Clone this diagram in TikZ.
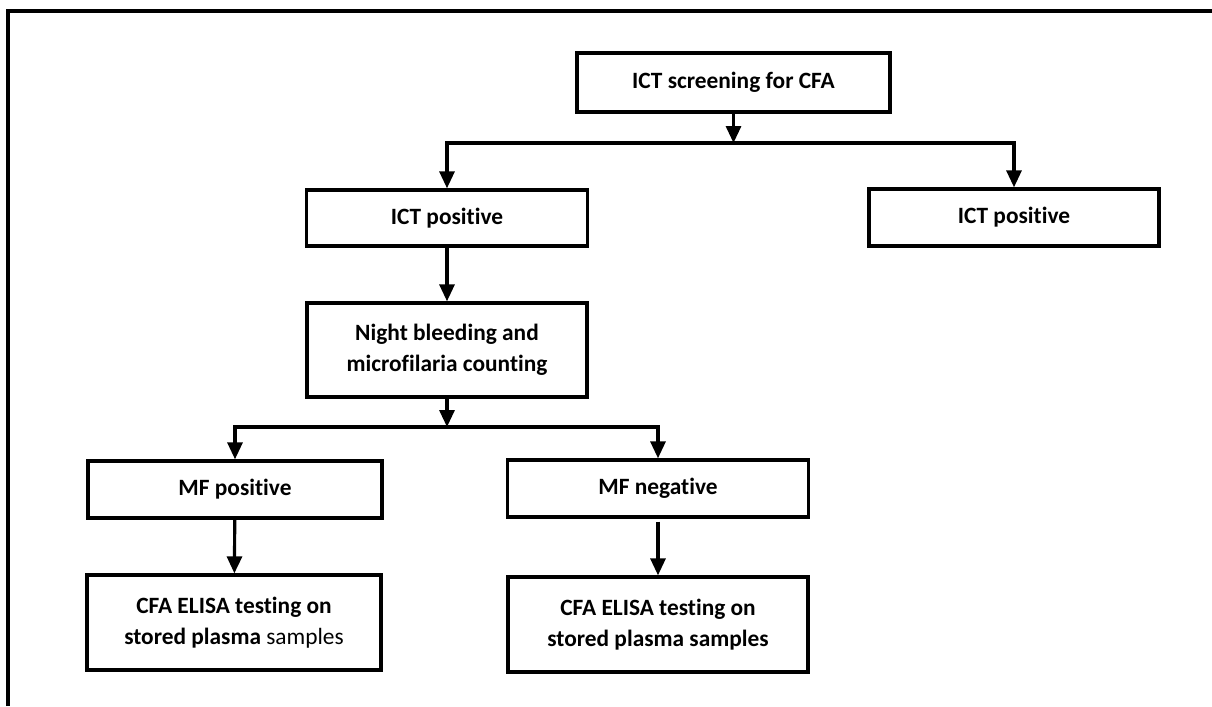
\documentclass[tikz,border=0pt]{standalone}
\usepackage{fontspec}
\setmainfont{Carlito}[Ligatures={NoCommon,NoContextual}]
\usepackage{tikz}
\usetikzlibrary{arrows.meta,positioning}
\tikzset{
  every picture/.style={draw=black, text=black},
}

\begin{document}
\begin{tikzpicture}[x=0.02cm, y=-0.02cm,
  box/.style={draw, line width=1.9pt, fill=white, align=center,
    inner sep=0pt, font=\bfseries\fontsize{13.3}{17.6}\selectfont},
  arr/.style={line width=1.8pt, -{Triangle[length=0.34cm,width=0.3cm]}}]

\useasboundingbox (0,0) rectangle (1212,706);

%% Outer frame (top and left edges only)
\draw[line width=1.9pt] (8,706) -- (8,11) -- (1212,11);

%% Level 0: screening
\node[box, minimum width=313*0.02cm, minimum height=59*0.02cm]
  (screen) at (733.5,82.5) {ICT screening for CFA};

%% Level 1: ICT results
\node[box, minimum width=281*0.02cm, minimum height=56*0.02cm]
  (ictl) at (447,218) {ICT positive};
\node[box, minimum width=290*0.02cm, minimum height=57*0.02cm]
  (ictr) at (1014,217.5) {ICT positive};

%% Level 2: night bleeding
\node[box, minimum width=280*0.02cm, minimum height=94*0.02cm]
  (night) at (447,350) {Night bleeding and\\microfilaria counting};

%% Level 3: MF results
\node[box, minimum width=294*0.02cm, minimum height=57*0.02cm]
  (mfpos) at (235,489.5) {MF positive};
\node[box, minimum width=301*0.02cm, minimum height=57*0.02cm]
  (mfneg) at (658,488.5) {MF negative};

%% Level 4: ELISA testing
\node[box, minimum width=294*0.02cm, minimum height=95*0.02cm]
  (elisal) at (234,622.5) {CFA ELISA testing on\\stored plasma {\mdseries samples}};
\node[box, minimum width=300*0.02cm, minimum height=95*0.02cm]
  (elisar) at (658,624.5) {CFA ELISA testing on\\stored plasma samples};

%% Branch points
\coordinate (split1) at (733.5,143);
\coordinate (split2) at (447,427);

%% Connectors
\draw[arr] (screen.south) -- (split1);
\draw[arr] (split1) -| (ictl);
\draw[arr] (split1) -| (ictr);
\draw[arr] (ictl) -- (night);
\draw[arr] (night.south) -- (split2);
\draw[arr] (split2) -| (mfpos);
\draw[arr] (split2) -| (mfneg);
\draw[arr] (mfpos) -- (elisal);
\draw[arr] ([yshift=-0.06cm]mfneg.south) -- (elisar);

\end{tikzpicture}
\end{document}
